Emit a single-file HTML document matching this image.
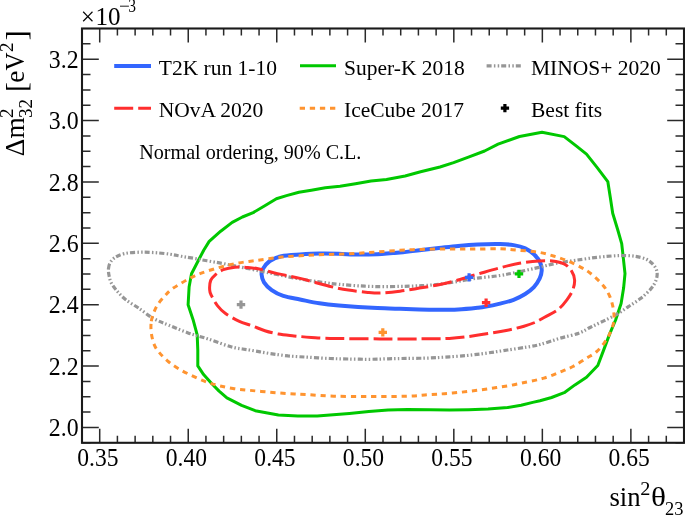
<!DOCTYPE html>
<html><head><meta charset="utf-8"><style>
html,body{margin:0;padding:0;background:#fff;overflow:hidden;}
svg{display:block;will-change:transform;font-family:"Liberation Serif",serif;}
</style></head><body>
<svg width="685" height="516" viewBox="0 0 685 516">
<rect width="685" height="516" fill="#fff"/>
<path d="M188.1,304.8 L193.0,319.4 L197.2,334.9 L197.8,350.4 L197.8,365.9 L203.6,374.6 L211.4,383.3 L219.1,391.1 L226.9,397.9 L241.6,405.3 L255.2,410.7 L278.4,415.0 L297.8,415.9 L317.2,415.9 L330.0,415.0 L349.4,413.4 L368.8,411.5 L388.1,410.1 L407.5,409.5 L430.0,409.8 L449.4,410.1 L468.8,409.7 L488.1,409.1 L507.5,407.6 L521.1,405.3 L532.7,402.4 L540.0,400.8 L551.6,397.5 L564.2,392.7 L574.9,384.9 L586.5,377.2 L597.8,365.5 L604.0,349.1 L609.8,333.6 L615.6,320.0 L621.1,303.6 L623.6,288.1 L625.0,273.6 L623.0,255.2 L621.7,243.6 L617.8,230.0 L612.7,213.2 L610.2,196.7 L607.8,181.6 L597.2,167.6 L586.5,154.1 L576.8,146.3 L564.2,136.6 L542.0,132.3 L519.5,136.5 L498.1,144.2 L484.6,151.0 L469.1,156.8 L453.6,162.6 L440.0,167.0 L420.6,171.8 L405.1,176.0 L386.5,179.5 L371.0,181.1 L355.5,183.7 L340.0,186.2 L325.3,187.8 L311.3,190.2 L298.9,192.2 L286.5,195.6 L276.4,198.7 L264.8,205.7 L253.2,212.6 L242.4,217.0 L232.2,222.4 L220.7,231.2 L209.2,241.4 L203.7,250.2 L199.0,259.3 L191.5,273.8 L189.1,287.1 Z" fill="none" stroke="#00c800" stroke-width="3" stroke-linejoin="round"/>
<path d="M261.6,274.6 C261.4,272.4 261.6,271.1 263.0,268.8 C264.4,266.5 266.7,263.1 269.8,261.0 C272.9,258.9 276.4,257.3 281.4,256.2 C286.4,255.1 293.7,254.9 300.0,254.5 C306.3,254.1 312.9,253.7 319.4,253.6 C325.9,253.5 332.4,253.6 338.8,253.8 C345.2,254.0 351.7,254.5 358.1,254.6 C364.6,254.7 370.5,254.5 377.5,254.2 C384.5,253.9 393.0,253.2 400.0,252.6 C407.0,251.9 412.9,251.1 419.4,250.3 C425.9,249.5 432.4,248.7 438.8,248.0 C445.2,247.3 451.7,246.5 458.1,245.9 C464.6,245.3 470.5,244.8 477.5,244.5 C484.5,244.2 494.0,244.0 500.0,244.1 C506.0,244.2 509.4,244.4 513.6,245.1 C517.8,245.8 521.7,246.7 525.2,248.4 C528.8,250.1 532.4,252.8 534.9,255.2 C537.4,257.6 539.2,260.3 540.3,262.9 C541.4,265.5 541.8,268.1 541.7,270.7 C541.6,273.3 541.0,275.6 539.7,278.4 C538.4,281.1 536.3,284.6 533.9,287.2 C531.5,289.8 528.6,291.9 525.2,294.0 C521.8,296.1 517.8,298.2 513.6,299.8 C509.4,301.4 504.6,302.5 500.0,303.6 C495.4,304.7 489.8,305.9 486.0,306.6 C482.2,307.3 482.1,307.3 477.5,307.8 C472.9,308.3 464.6,309.2 458.1,309.5 C451.7,309.8 445.2,309.8 438.8,309.8 C432.4,309.8 425.9,309.7 419.4,309.5 C412.9,309.3 407.0,309.0 400.0,308.8 C393.0,308.6 384.5,308.4 377.5,308.1 C370.5,307.8 364.6,307.5 358.1,307.1 C351.7,306.7 345.2,306.2 338.8,305.6 C332.4,305.0 325.9,304.3 319.4,303.3 C312.9,302.3 306.0,300.7 300.0,299.5 C294.0,298.3 288.0,297.5 283.3,295.9 C278.6,294.3 274.9,292.4 271.7,290.1 C268.5,287.8 265.7,284.9 264.0,282.3 C262.3,279.7 261.8,276.9 261.6,274.6 Z" fill="none" stroke="#3366ff" stroke-width="4"/>
<path d="M108.5,268.5 C108.7,266.4 109.2,264.2 110.3,262.4 C111.4,260.6 112.6,259.1 114.9,257.6 C117.2,256.1 120.3,254.5 124.4,253.6 C128.5,252.7 134.3,252.4 139.3,252.2 C144.3,252.0 149.2,252.3 154.3,252.6 C159.4,252.9 165.5,253.6 170.0,254.2 C174.5,254.8 177.5,255.6 181.4,256.3 C185.3,257.0 189.3,257.6 193.6,258.3 C197.9,259.1 202.6,260.0 207.1,260.8 C211.6,261.6 216.2,262.3 220.7,263.1 C225.2,263.9 229.0,264.8 234.3,265.8 C239.6,266.9 247.0,268.3 252.3,269.4 C257.6,270.5 261.0,271.2 265.9,272.2 C270.8,273.2 276.2,274.4 281.4,275.5 C286.6,276.6 291.9,277.6 296.9,278.5 C301.9,279.4 306.9,280.1 311.6,280.8 C316.3,281.5 320.7,282.1 325.2,282.7 C329.7,283.3 333.3,283.8 338.8,284.3 C344.3,284.8 351.7,285.4 358.1,285.8 C364.6,286.2 370.5,286.5 377.5,286.6 C384.5,286.7 393.0,286.5 400.0,286.4 C407.0,286.3 412.9,286.1 419.4,285.8 C425.9,285.5 432.4,285.0 438.8,284.3 C445.2,283.6 451.7,282.4 458.1,281.4 C464.6,280.4 470.5,279.1 477.5,278.1 C484.5,277.1 493.0,276.6 500.0,275.5 C507.0,274.4 512.9,273.1 519.4,271.7 C525.9,270.3 532.3,268.9 538.8,267.4 C545.2,265.9 551.6,264.1 558.1,262.9 C564.6,261.7 570.6,261.0 577.5,260.0 C584.4,259.0 592.5,257.8 599.4,257.1 C606.3,256.4 613.0,255.8 618.8,255.6 C624.6,255.4 629.8,255.6 634.3,256.2 C638.8,256.8 642.7,257.7 645.9,259.1 C649.1,260.6 651.7,262.6 653.6,264.9 C655.5,267.1 656.8,269.9 657.1,272.6 C657.4,275.4 656.8,278.5 655.6,281.4 C654.4,284.3 652.4,287.2 649.8,290.1 C647.2,293.0 643.7,296.1 640.1,298.8 C636.5,301.6 632.3,304.0 628.4,306.6 C624.5,309.2 621.0,311.9 616.8,314.3 C612.6,316.7 607.6,319.0 603.3,321.1 C599.0,323.2 595.1,325.0 591.0,327.0 C586.9,329.0 584.1,331.3 578.8,333.2 C573.5,335.1 565.9,336.5 559.4,338.4 C552.9,340.3 545.4,343.1 540.0,344.5 C534.6,345.9 532.3,346.2 526.9,347.1 C521.5,348.0 514.0,349.0 507.5,350.0 C501.0,351.0 494.6,352.0 488.1,352.9 C481.7,353.8 475.2,354.6 468.8,355.3 C462.4,356.0 455.9,356.4 449.4,356.8 C442.9,357.2 437.0,357.7 430.0,358.0 C423.0,358.3 414.5,358.3 407.5,358.4 C400.5,358.5 394.6,358.6 388.1,358.8 C381.7,359.0 375.5,359.3 368.8,359.3 C362.1,359.3 354.5,359.1 348.0,359.0 C341.5,358.9 336.8,358.8 330.0,358.5 C323.2,358.2 314.5,357.6 307.5,357.2 C300.5,356.8 294.6,356.5 288.1,355.9 C281.7,355.2 275.2,354.3 268.8,353.3 C262.4,352.3 255.7,351.1 249.4,350.0 C243.1,348.9 238.0,348.7 231.0,346.8 C224.0,344.9 214.7,341.1 207.5,338.8 C200.3,336.5 194.5,335.2 188.1,332.9 C181.7,330.6 174.6,327.6 168.8,325.2 C163.0,322.8 158.4,321.3 153.3,318.4 C148.2,315.5 143.1,311.1 138.5,308.0 C133.9,304.9 129.3,302.4 125.8,299.7 C122.3,297.0 120.0,294.3 117.6,291.6 C115.2,288.9 112.9,286.1 111.5,283.4 C110.1,280.7 109.5,277.8 109.0,275.3 C108.5,272.8 108.3,270.6 108.5,268.5 Z" fill="none" stroke="#969696" stroke-width="3.2" stroke-dasharray="5 2.3 1.5 2.3 1.5 2"/>
<path d="M209.7,290.1 C209.5,287.5 209.7,283.0 210.7,280.4 C211.7,277.8 213.4,276.4 215.5,274.6 C217.6,272.8 220.1,270.9 223.3,269.7 C226.5,268.5 231.0,267.6 234.9,267.2 C238.8,266.8 242.6,267.1 246.5,267.4 C250.4,267.7 252.9,267.8 258.1,268.8 C263.3,269.8 270.5,272.0 277.5,273.6 C284.5,275.2 291.4,276.3 300.0,278.4 C308.6,280.5 321.0,284.2 329.1,286.2 C337.2,288.1 341.9,289.1 348.4,290.1 C354.8,291.1 362.3,291.9 367.8,292.4 C373.3,292.9 376.0,293.2 381.4,293.0 C386.8,292.8 393.7,292.0 400.0,291.2 C406.3,290.4 412.9,289.2 419.4,288.1 C425.9,287.0 432.4,286.1 438.8,284.7 C445.2,283.3 451.7,281.8 458.1,280.0 C464.6,278.2 470.5,276.2 477.5,274.2 C484.5,272.2 493.0,269.6 500.0,267.8 C507.0,266.0 512.9,264.4 519.4,263.3 C525.9,262.2 533.3,261.4 538.8,261.0 C544.3,260.6 548.1,260.5 552.3,261.0 C556.5,261.5 560.8,262.3 564.0,263.9 C567.2,265.5 569.7,268.1 571.5,270.8 C573.3,273.5 574.4,276.8 574.6,280.0 C574.8,283.2 574.0,286.8 572.7,290.1 C571.4,293.4 569.3,296.6 566.9,299.8 C564.5,303.0 561.8,306.6 558.1,309.5 C554.4,312.4 548.5,315.0 544.6,317.2 C540.7,319.4 538.1,321.0 534.7,322.5 C531.3,324.0 528.5,324.9 524.0,326.2 C519.5,327.5 513.5,329.0 507.5,330.2 C501.5,331.4 494.6,332.6 488.1,333.6 C481.7,334.7 475.2,335.7 468.8,336.5 C462.4,337.3 455.9,338.0 449.4,338.4 C442.9,338.8 441.6,338.7 430.0,338.8 C418.4,338.9 396.7,339.0 380.0,338.9 C363.3,338.8 341.4,338.6 330.0,338.4 C318.6,338.1 317.4,337.8 311.4,337.4 C305.4,337.0 299.5,336.5 294.0,335.9 C288.5,335.3 283.2,334.9 278.4,334.0 C273.5,333.1 269.2,332.1 264.9,330.7 C260.5,329.3 256.6,327.5 252.3,325.9 C248.0,324.3 243.3,323.2 238.8,321.1 C234.3,319.0 228.8,315.9 225.2,313.3 C221.6,310.7 219.7,308.5 217.4,305.6 C215.1,302.7 212.9,298.5 211.6,295.9 C210.3,293.3 209.8,292.7 209.7,290.1 Z" fill="none" stroke="#ff2e2e" stroke-width="3" stroke-dasharray="19 5"/>
<path d="M151.3,321.3 C151.8,317.8 153.0,314.6 154.2,311.6 C155.4,308.6 156.7,306.2 158.5,303.5 C160.3,300.8 163.0,297.9 165.1,295.6 C167.2,293.3 168.3,291.9 170.8,289.9 C173.3,287.9 176.9,285.8 180.3,283.7 C183.7,281.6 187.8,279.3 191.1,277.6 C194.4,275.9 196.6,274.9 200.0,273.6 C203.4,272.3 207.4,271.0 211.6,269.7 C215.8,268.4 220.7,267.0 225.2,265.9 C229.7,264.8 234.3,263.7 238.8,262.9 C243.3,262.1 247.8,261.6 252.3,261.0 C256.8,260.4 261.0,259.8 265.9,259.1 C270.8,258.5 275.7,257.7 281.4,257.1 C287.1,256.6 293.7,256.2 300.0,255.8 C306.3,255.4 312.9,255.1 319.4,254.8 C325.9,254.5 332.4,254.4 338.8,254.2 C345.2,253.9 351.7,253.7 358.1,253.3 C364.6,252.9 370.5,252.4 377.5,251.9 C384.5,251.4 393.0,250.7 400.0,250.3 C407.0,249.9 412.9,249.6 419.4,249.4 C425.9,249.2 432.4,249.1 438.8,249.0 C445.2,248.9 451.7,249.0 458.1,249.0 C464.6,249.0 470.5,249.0 477.5,249.0 C484.5,249.0 493.0,248.6 500.0,248.8 C507.0,249.0 512.9,249.7 519.4,250.3 C525.9,250.9 533.0,251.3 538.8,252.3 C544.6,253.3 549.5,254.8 554.3,256.2 C559.1,257.6 563.3,259.1 567.8,261.0 C572.3,262.9 577.7,265.6 581.4,267.6 C585.1,269.6 587.2,270.9 590.0,273.0 C592.8,275.1 595.9,277.9 598.4,280.4 C600.9,282.9 603.3,285.4 605.2,288.1 C607.1,290.9 608.7,293.8 610.0,296.9 C611.3,300.0 612.2,303.5 612.9,306.6 C613.6,309.7 613.9,312.6 614.0,315.3 C614.1,318.0 614.3,319.8 613.6,322.9 C612.9,325.9 611.4,330.2 609.8,333.6 C608.2,337.0 606.3,340.2 604.0,343.3 C601.7,346.4 599.1,349.5 596.2,352.0 C593.3,354.5 590.4,355.8 586.5,358.2 C582.6,360.6 577.4,364.1 572.9,366.5 C568.4,368.9 564.2,370.4 559.4,372.3 C554.6,374.2 549.3,376.5 543.9,378.1 C538.5,379.7 533.0,380.7 526.9,382.0 C520.8,383.3 514.0,384.8 507.5,385.9 C501.0,387.0 494.6,387.9 488.1,388.8 C481.7,389.7 475.2,390.6 468.8,391.3 C462.4,392.1 455.9,392.8 449.4,393.3 C442.9,393.9 437.0,394.1 430.0,394.6 C423.0,395.1 417.7,395.9 407.5,396.2 C397.3,396.5 381.1,396.6 368.8,396.6 C356.5,396.6 344.1,396.5 333.9,396.2 C323.7,395.9 315.1,395.0 307.5,394.6 C299.9,394.2 294.6,394.0 288.1,393.6 C281.7,393.2 275.2,392.7 268.8,392.1 C262.4,391.6 255.4,390.9 249.4,390.3 C243.4,389.7 238.1,389.3 233.0,388.5 C227.9,387.7 223.3,386.7 219.1,385.7 C214.8,384.7 211.7,383.9 207.5,382.4 C203.3,380.9 198.5,378.7 194.0,376.6 C189.5,374.5 184.6,372.2 180.4,369.8 C176.2,367.4 172.4,364.9 168.8,362.0 C165.2,359.1 161.5,355.2 159.1,352.3 C156.7,349.4 155.5,347.8 154.2,344.6 C152.9,341.4 151.8,336.8 151.3,332.9 C150.8,329.0 150.8,324.9 151.3,321.3 Z" fill="none" stroke="#ff9430" stroke-width="3" stroke-dasharray="5.3 4.8"/>
<path d="M236.8,304.6 H245.2 M241.0,300.4 V308.8" stroke="#969696" stroke-width="3.2" fill="none"/>
<path d="M378.6,332.4 H387.0 M382.8,328.2 V336.6" stroke="#ff9430" stroke-width="3.2" fill="none"/>
<path d="M481.9,302.7 H490.3 M486.1,298.5 V306.9" stroke="#ff2e2e" stroke-width="3.2" fill="none"/>
<path d="M464.9,277.4 H473.3 M469.1,273.2 V281.6" stroke="#3366ff" stroke-width="3.2" fill="none"/>
<path d="M514.8,273.9 H523.2 M519.0,269.7 V278.1" stroke="#00c800" stroke-width="3.2" fill="none"/>
<path d="M99.71,442.80 v-14 M99.71,28.50 v14 M117.41,442.80 v-7 M117.41,28.50 v7 M135.12,442.80 v-7 M135.12,28.50 v7 M152.82,442.80 v-7 M152.82,28.50 v7 M170.53,442.80 v-7 M170.53,28.50 v7 M188.24,442.80 v-14 M188.24,28.50 v14 M205.94,442.80 v-7 M205.94,28.50 v7 M223.65,442.80 v-7 M223.65,28.50 v7 M241.35,442.80 v-7 M241.35,28.50 v7 M259.06,442.80 v-7 M259.06,28.50 v7 M276.76,442.80 v-14 M276.76,28.50 v14 M294.47,442.80 v-7 M294.47,28.50 v7 M312.18,442.80 v-7 M312.18,28.50 v7 M329.88,442.80 v-7 M329.88,28.50 v7 M347.59,442.80 v-7 M347.59,28.50 v7 M365.29,442.80 v-14 M365.29,28.50 v14 M383.00,442.80 v-7 M383.00,28.50 v7 M400.71,442.80 v-7 M400.71,28.50 v7 M418.41,442.80 v-7 M418.41,28.50 v7 M436.12,442.80 v-7 M436.12,28.50 v7 M453.82,442.80 v-14 M453.82,28.50 v14 M471.53,442.80 v-7 M471.53,28.50 v7 M489.24,442.80 v-7 M489.24,28.50 v7 M506.94,442.80 v-7 M506.94,28.50 v7 M524.65,442.80 v-7 M524.65,28.50 v7 M542.35,442.80 v-14 M542.35,28.50 v14 M560.06,442.80 v-7 M560.06,28.50 v7 M577.76,442.80 v-7 M577.76,28.50 v7 M595.47,442.80 v-7 M595.47,28.50 v7 M613.18,442.80 v-7 M613.18,28.50 v7 M630.88,442.80 v-14 M630.88,28.50 v14 M648.59,442.80 v-7 M648.59,28.50 v7 M666.29,442.80 v-7 M666.29,28.50 v7 M82.00,442.80 h8.5 M684.00,442.80 h-8.5 M82.00,427.46 h16.8 M684.00,427.46 h-16.8 M82.00,412.11 h8.5 M684.00,412.11 h-8.5 M82.00,396.77 h8.5 M684.00,396.77 h-8.5 M82.00,381.42 h8.5 M684.00,381.42 h-8.5 M82.00,366.08 h16.8 M684.00,366.08 h-16.8 M82.00,350.73 h8.5 M684.00,350.73 h-8.5 M82.00,335.39 h8.5 M684.00,335.39 h-8.5 M82.00,320.04 h8.5 M684.00,320.04 h-8.5 M82.00,304.70 h16.8 M684.00,304.70 h-16.8 M82.00,289.36 h8.5 M684.00,289.36 h-8.5 M82.00,274.01 h8.5 M684.00,274.01 h-8.5 M82.00,258.67 h8.5 M684.00,258.67 h-8.5 M82.00,243.32 h16.8 M684.00,243.32 h-16.8 M82.00,227.98 h8.5 M684.00,227.98 h-8.5 M82.00,212.63 h8.5 M684.00,212.63 h-8.5 M82.00,197.29 h8.5 M684.00,197.29 h-8.5 M82.00,181.94 h16.8 M684.00,181.94 h-16.8 M82.00,166.60 h8.5 M684.00,166.60 h-8.5 M82.00,151.26 h8.5 M684.00,151.26 h-8.5 M82.00,135.91 h8.5 M684.00,135.91 h-8.5 M82.00,120.57 h16.8 M684.00,120.57 h-16.8 M82.00,105.22 h8.5 M684.00,105.22 h-8.5 M82.00,89.88 h8.5 M684.00,89.88 h-8.5 M82.00,74.53 h8.5 M684.00,74.53 h-8.5 M82.00,59.19 h16.8 M684.00,59.19 h-16.8 M82.00,43.84 h8.5 M684.00,43.84 h-8.5" stroke="#2a2a2a" stroke-width="1.5" fill="none"/>
<rect x="82.0" y="28.5" width="602.0" height="414.3" fill="none" stroke="#1a1a1a" stroke-width="2.1"/>
<g font-size="24.7"><text transform="translate(78.6,436.1) scale(0.965,1)" text-anchor="end">2.0</text><text transform="translate(78.6,374.7) scale(0.965,1)" text-anchor="end">2.2</text><text transform="translate(78.6,313.3) scale(0.965,1)" text-anchor="end">2.4</text><text transform="translate(78.6,251.9) scale(0.965,1)" text-anchor="end">2.6</text><text transform="translate(78.6,190.5) scale(0.965,1)" text-anchor="end">2.8</text><text transform="translate(78.6,129.2) scale(0.965,1)" text-anchor="end">3.0</text><text transform="translate(78.6,67.8) scale(0.965,1)" text-anchor="end">3.2</text><text transform="translate(97.9,466.3) scale(0.955,1)" text-anchor="middle">0.35</text><text transform="translate(186.4,466.3) scale(0.955,1)" text-anchor="middle">0.40</text><text transform="translate(275.0,466.3) scale(0.955,1)" text-anchor="middle">0.45</text><text transform="translate(363.5,466.3) scale(0.955,1)" text-anchor="middle">0.50</text><text transform="translate(452.0,466.3) scale(0.955,1)" text-anchor="middle">0.55</text><text transform="translate(540.6,466.3) scale(0.955,1)" text-anchor="middle">0.60</text><text transform="translate(629.1,466.3) scale(0.955,1)" text-anchor="middle">0.65</text></g>
<path d="M114.2,65.9 H151" stroke="#3366ff" stroke-width="4"/><path d="M300,65.8 H336" stroke="#00c800" stroke-width="3"/><path d="M486.6,65.8 H522.4" stroke="#969696" stroke-width="3.2" stroke-dasharray="5 2.3 1.5 2.3 1.5 2"/><path d="M114.2,108.2 H151" stroke="#ff2e2e" stroke-width="3" stroke-dasharray="19 5"/><path d="M299.7,108.25 H336" stroke="#ff9430" stroke-width="3" stroke-dasharray="5.3 4.8"/><path d="M500.8,108.1 H509.1 M504.9,103.9 V112.3" stroke="#000" stroke-width="3.2" fill="none"/>
<g font-size="21.5"><text x="158.8" y="74.7">T2K run 1-10</text><text x="344" y="74.8">Super-K 2018</text><text x="531" y="74.7">MINOS+ 2020</text><text x="158.8" y="117.2">NOvA 2020</text><text x="344" y="117.3">IceCube 2017</text><text x="531" y="117.2">Best fits</text></g>
<text x="139.3" y="158.8" font-size="20.1">Normal ordering, 90% C.L.</text>
<text x="80.7" y="25" font-size="25">×</text><text x="95.5" y="25" font-size="25">10</text><path d="M120,6.2 H128.9" stroke="#333" stroke-width="1.1"/><text transform="translate(128.3,11.9) scale(0.86,1)" font-size="18">3</text>
<g transform="translate(24,155.3) rotate(-90)"><text x="-0.84" y="0" font-size="27.3">Δm</text><text x="37.4" y="-11.3" font-size="19">2</text><text x="37.3" y="7.9" font-size="19">32</text><text x="63.3" y="2" font-size="29.5">[</text><text x="72.6" y="0" font-size="27.3">e</text><text transform="translate(84.9,0) scale(0.91,1)" x="0" y="0" font-size="27.3">V</text><text x="103.2" y="-11.0" font-size="19">2</text><text x="115.0" y="2" font-size="29.5">]</text></g>
<text transform="translate(609.4,506) scale(0.955,1)" font-size="28">sin</text><text transform="translate(640.2,494.6) scale(1.1,1)" font-size="18.4">2</text><text transform="translate(651.0,506) scale(1.18,1)" font-size="26.5">θ</text><text x="665" y="515.2" font-size="18.4">23</text>
</svg>
</body></html>
